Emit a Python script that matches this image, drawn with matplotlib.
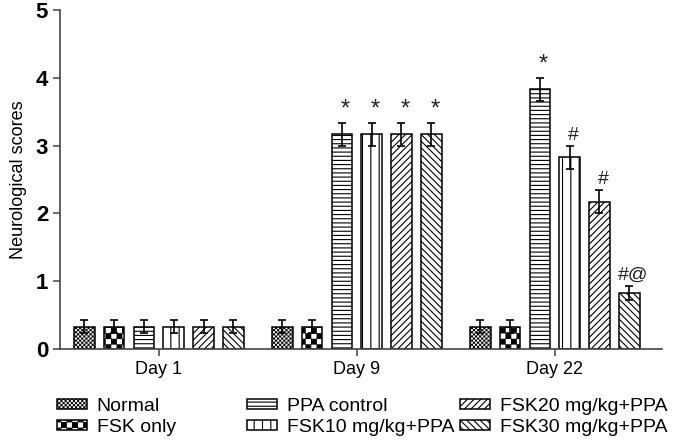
import warnings
import numpy as np
import matplotlib
matplotlib.use('Agg')
import matplotlib.pyplot as plt
import matplotlib.hatch as mhatch
from matplotlib.path import Path

warnings.filterwarnings('ignore')


# checkerboard hatch ('c'), matplotlib has none built in
class CheckerHatch(mhatch.HatchPatternBase):
    def __init__(self, hatch, density):
        self.n = hatch.count('c') * density
        self.cells = [(i, j) for i in range(self.n) for j in range(self.n)
                      if (i + j) % 2 == 0]
        self.num_vertices = len(self.cells) * 5

    def set_vertices_and_codes(self, vertices, codes):
        s = 1.0 / self.n
        # inset so the stroke does not swell the squares
        d = 0.004 if self.n < 30 else 0.25 * s
        for k, (i, j) in enumerate(self.cells):
            x0, y0, x1, y1 = i * s + d, j * s + d, (i + 1) * s - d, (j + 1) * s - d
            vertices[5 * k:5 * k + 5] = [(x0, y0), (x1, y0), (x1, y1), (x0, y1), (x0, y0)]
            codes[5 * k:5 * k + 5] = [Path.MOVETO, Path.LINETO, Path.LINETO,
                                      Path.LINETO, Path.CLOSEPOLY]


mhatch._hatch_types.append(CheckerHatch)

# 数据
days = ['Day 1', 'Day 9', 'Day 22']
groups = ['Normal', 'FSK only', 'PPA control', 'FSK10 mg/kg+PPA',
          'FSK20 mg/kg+PPA', 'FSK30 mg/kg+PPA']
normal = [0.33, 0.33, 0.33]
fsk_only = [0.33, 0.33, 0.33]
ppa_control = [0.33, 3.17, 3.83]
fsk10 = [0.33, 3.17, 2.83]
fsk20 = [0.33, 3.17, 2.17]
fsk30 = [0.33, 3.17, 0.83]
err_normal = [0.1, 0.1, 0.1]
err_fsk_only = [0.1, 0.1, 0.1]
err_ppa = [0.1, 0.17, 0.17]
err_fsk10 = [0.1, 0.17, 0.17]
err_fsk20 = [0.1, 0.17, 0.17]
err_fsk30 = [0.1, 0.17, 0.1]
marks = [['', '', '', '', '', ''],
         ['', '', '*', '*', '*', '*'],
         ['', '', '*', '#', '#', '#@']]

values = [normal, fsk_only, ppa_control, fsk10, fsk20, fsk30]
errors = [err_normal, err_fsk_only, err_ppa, err_fsk10, err_fsk20, err_fsk30]
hatches = ['cccccccc', 'ccc', '----', '||', '/////', '\\\\\\\\\\']

plt.rcParams['hatch.linewidth'] = 0.8
plt.rcParams['font.family'] = ['Liberation Sans', 'DejaVu Sans']

fig = plt.figure(figsize=(6.77, 4.42), dpi=100)
ax = fig.add_axes([60 / 677, 1 - 349 / 442, 602 / 677, 339 / 442])

centers = np.array([0, 6.65, 13.3])
width = 0.69
bars = []
for k in range(6):
    x = centers + (k - 2.5)
    b = ax.bar(x, values[k], width, color='white', edgecolor='black',
               linewidth=1.1, hatch=hatches[k], label=groups[k])
    ax.errorbar(x, values[k], yerr=errors[k], fmt='none', ecolor='black',
                elinewidth=1.2, capsize=3, capthick=1.2)
    bars.append(b)
    for i in range(3):
        m = marks[i][k]
        if m:
            fs = 17 if m == '*' else 14
            ax.text(x[i] + 0.12, values[k][i] + errors[k][i] + 0.03, m,
                    ha='center', va='bottom', fontsize=fs, color='#222222')

ax.set_xlim(-3.32, 16.9)
ax.set_ylim(0, 5)
ax.set_xticks(centers)
ax.set_xticklabels(days, fontsize=13)
ax.set_yticks(range(6))
ax.set_yticklabels([str(v) for v in range(6)], fontsize=16, fontweight='bold')
ax.set_ylabel('Neurological scores', fontsize=13, labelpad=6)
for s in ['top', 'right']:
    ax.spines[s].set_visible(False)
for s in ['left', 'bottom']:
    ax.spines[s].set_color('#444444')
    ax.spines[s].set_linewidth(1.2)
ax.tick_params(axis='both', direction='out', length=5, width=1.1, color='#444444')
ax.tick_params(axis='x', pad=4)

# 图例 three columns placed separately
col_x = [57 / 677, 247 / 677, 460 / 677]
for c in range(3):
    fig.legend([bars[2 * c], bars[2 * c + 1]], groups[2 * c:2 * c + 2],
               loc='upper left', bbox_to_anchor=(col_x[c], 0.1),
               frameon=False, fontsize=14, handlelength=1.55, handleheight=0.45,
               handletextpad=0.5, labelspacing=0.2, borderpad=0,
               borderaxespad=0)

fig.savefig('out.png', dpi=100)
